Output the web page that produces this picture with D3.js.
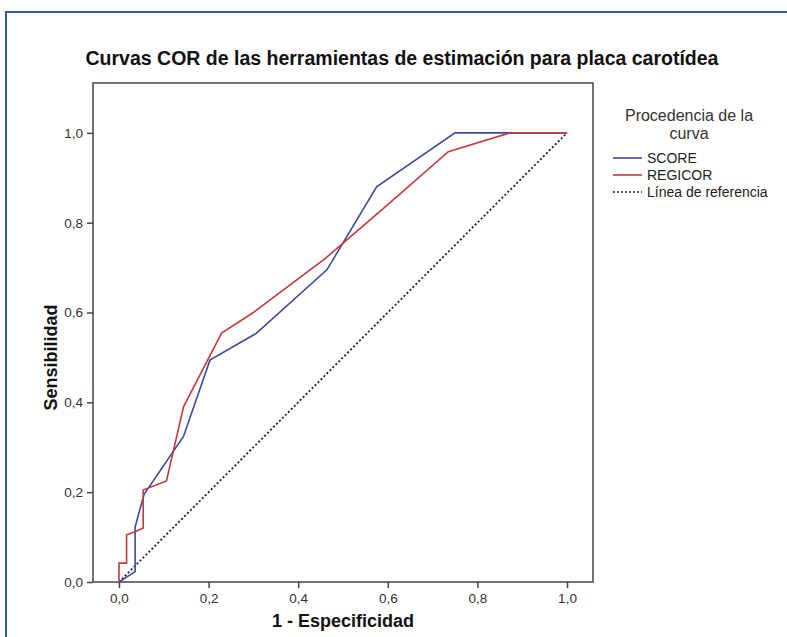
<!DOCTYPE html>
<html lang="es">
<head>
    <meta charset="UTF-8">
    <title>Curvas COR</title>
    <script src="https://d3js.org/d3.v7.min.js"></script>
    <style>
        body {
            margin: 0;
            background: #fff;
            font-family: 'Liberation Sans', Arial, sans-serif;
        }
        .curve {
            fill: none;
            stroke-width: 1.6px;
        }
    </style>
</head>
<body>
<svg id="chart" width="787" height="637"></svg>

<script>
    // ROC points (1 - especificidad, sensibilidad)
    const scoreX = [0, 0.036, 0.036, 0.056, 0.144, 0.203, 0.307, 0.464, 0.575, 0.75, 1];
    const scoreY = [0, 0.023, 0.123, 0.195, 0.324, 0.494, 0.554, 0.695, 0.88, 1, 1];

    const regicorX = [0, 0, 0.017, 0.017, 0.036, 0.054, 0.054, 0.106, 0.144, 0.229, 0.30, 0.46, 0.60, 0.735, 0.873, 1];
    const regicorY = [0, 0.042, 0.042, 0.105, 0.112, 0.12, 0.205, 0.225, 0.39, 0.554, 0.60, 0.72, 0.84, 0.958, 1, 1];

    const refX = [0, 1];
    const refY = [0, 1];

    const tickValues = [0, 0.2, 0.4, 0.6, 0.8, 1.0];
    const legendNames = ["SCORE", "REGICOR", "Línea de referencia"];

    const svg = d3.select("#chart");

    // outer blue frame
    svg.append("rect")
        .attr("x", 6).attr("y", 12)
        .attr("width", 820).attr("height", 700)
        .attr("fill", "#fff")
        .attr("stroke", "#2f5b9c")
        .attr("stroke-width", 2);

    const x = d3.scaleLinear().domain([-0.058, 1.058]).range([93, 593]);
    const y = d3.scaleLinear().domain([0, 1.111]).range([582, 83]);

    // plot box
    svg.append("rect")
        .attr("x", x(-0.058)).attr("y", y(1.111))
        .attr("width", x(1.058) - x(-0.058))
        .attr("height", y(0) - y(1.111))
        .attr("fill", "none")
        .attr("stroke", "#444")
        .attr("stroke-width", 1.5);

    const fmt = d => d3.format(".1f")(d).replace(".", ",");

    const xAxis = svg.append("g")
        .attr("transform", `translate(0,${y(0)})`)
        .call(d3.axisBottom(x).tickValues(tickValues).tickFormat(fmt).tickSize(6).tickPadding(5));
    const yAxis = svg.append("g")
        .attr("transform", `translate(${x(-0.058)},0)`)
        .call(d3.axisLeft(y).tickValues(tickValues).tickFormat(fmt).tickSize(6).tickPadding(4));

    [xAxis, yAxis].forEach(g => {
        g.select(".domain").remove();
        g.selectAll(".tick line").attr("stroke", "#444").attr("stroke-width", 1.5);
        g.selectAll(".tick text")
            .attr("fill", "#333")
            .style("font-family", "'Liberation Sans', Arial, sans-serif")
            .style("font-size", "13.5px");
    });

    const line = d3.line()
        .x(d => x(d[0]))
        .y(d => y(d[1]));

    const zip = (a, b) => a.map((v, i) => [v, b[i]]);

    svg.append("path")
        .datum(zip(refX, refY))
        .attr("d", line)
        .attr("fill", "none")
        .attr("stroke", "#222")
        .attr("stroke-width", 1.8)
        .attr("stroke-dasharray", "2,2.2");

    svg.append("path")
        .datum(zip(scoreX, scoreY))
        .attr("class", "curve")
        .attr("stroke", "#3d4b99")
        .attr("d", line);

    svg.append("path")
        .datum(zip(regicorX, regicorY))
        .attr("class", "curve")
        .attr("stroke", "#c43a3c")
        .attr("d", line);

    // titles
    svg.append("text")
        .attr("x", 402).attr("y", 65)
        .attr("text-anchor", "middle")
        .style("font-size", "19.5px")
        .style("font-weight", "bold")
        .attr("fill", "#111")
        .text("Curvas COR de las herramientas de estimación para placa carotídea");

    svg.append("text")
        .attr("x", x(0.5)).attr("y", 627)
        .attr("text-anchor", "middle")
        .style("font-size", "18px")
        .style("font-weight", "bold")
        .attr("fill", "#111")
        .text("1 - Especificidad");

    svg.append("text")
        .attr("transform", `translate(57,${y(0.5)}) rotate(-90)`)
        .attr("text-anchor", "middle")
        .style("font-size", "18px")
        .style("font-weight", "bold")
        .attr("fill", "#111")
        .text("Sensibilidad");

    // legend
    const lg = svg.append("g");
    lg.append("text").attr("x", 689).attr("y", 121)
        .attr("text-anchor", "middle").style("font-size", "16px").attr("fill", "#333")
        .text("Procedencia de la");
    lg.append("text").attr("x", 689).attr("y", 139)
        .attr("text-anchor", "middle").style("font-size", "16px").attr("fill", "#333")
        .text("curva");

    const legendStyles = [
        { stroke: "#3d4b99", dash: null },
        { stroke: "#c43a3c", dash: null },
        { stroke: "#222", dash: "2,2" }
    ];
    legendNames.forEach((name, i) => {
        const ly = 158 + i * 17;
        lg.append("line")
            .attr("x1", 613).attr("x2", 642)
            .attr("y1", ly).attr("y2", ly)
            .attr("stroke", legendStyles[i].stroke)
            .attr("stroke-width", 1.6)
            .attr("stroke-dasharray", legendStyles[i].dash);
        lg.append("text")
            .attr("x", 647).attr("y", ly + 5)
            .style("font-size", "14px")
            .attr("fill", "#222")
            .text(name);
    });
</script>
</body>
</html>
